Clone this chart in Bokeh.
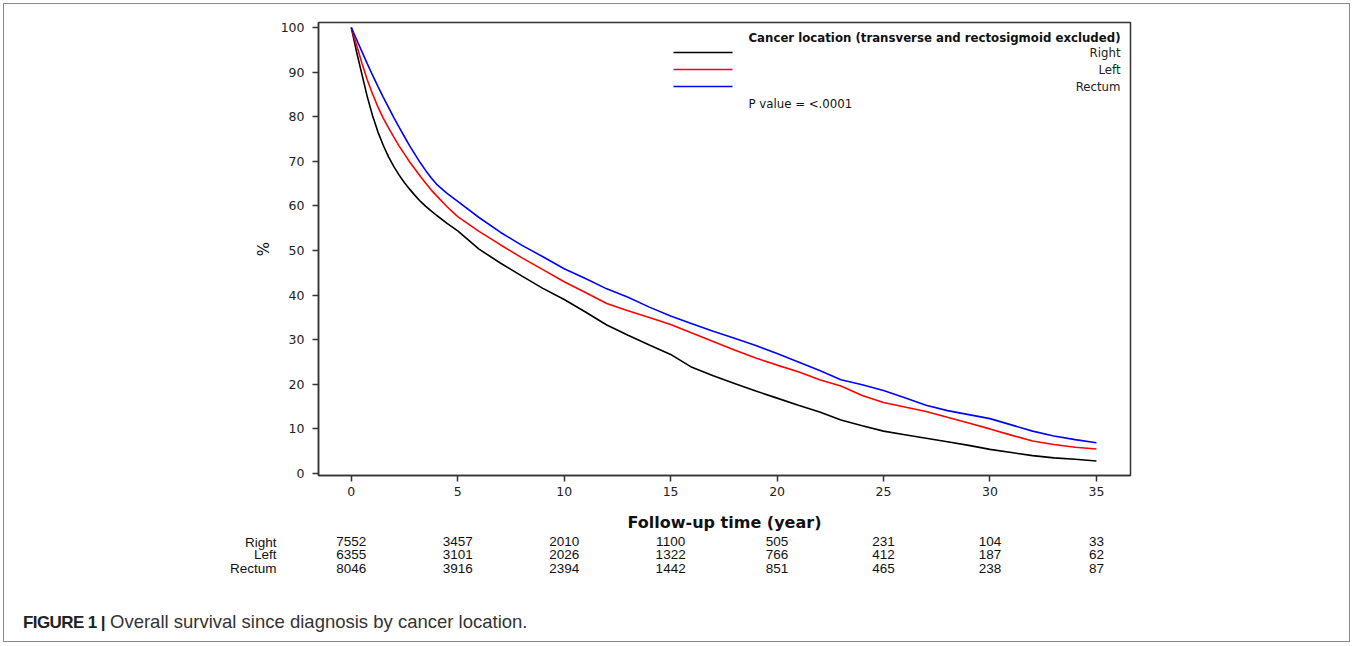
from bokeh.plotting import figure
from bokeh.models import Range1d, Label, FixedTicker, Div
from bokeh.layouts import column
from bokeh.core.properties import value
from bokeh.embed import file_html
from bokeh.resources import INLINE

# ---------------- data ----------------
years = [0, 0.25, 0.5, 0.75, 1, 1.25, 1.5, 1.75, 2, 2.25, 2.5, 2.75, 3, 3.25, 3.5, 3.75, 4,
         4.5, 5, 6, 7, 8, 9, 10, 11, 12, 13, 14, 15, 16, 17, 18, 19, 20, 21, 22, 23, 24, 25,
         26, 27, 28, 29, 30, 31, 32, 33, 34, 35]
right = [100, 94.5, 89.5, 84.5, 80.2, 76.6, 73.6, 71.0, 68.8, 66.9, 65.2, 63.7, 62.3, 61.0,
         59.9, 58.9, 57.9, 56.1, 54.4, 50.3, 47.2, 44.3, 41.5, 39.0, 36.2, 33.3, 31.0, 28.8,
         26.7, 23.8, 21.9, 20.2, 18.5, 16.9, 15.3, 13.8, 12.0, 10.7, 9.5, 8.7, 7.9, 7.1, 6.3,
         5.4, 4.7, 4.0, 3.5, 3.2, 2.8]
left = [100, 96.0, 92.0, 88.3, 85.1, 82.2, 79.7, 77.5, 75.4, 73.4, 71.6, 69.8, 68.2, 66.6,
        65.1, 63.6, 62.3, 59.8, 57.6, 54.3, 51.3, 48.4, 45.7, 43.0, 40.6, 38.1, 36.5, 35.0,
        33.4, 31.5, 29.6, 27.7, 25.9, 24.3, 22.8, 21.0, 19.6, 17.5, 15.9, 14.9, 13.9, 12.6,
        11.3, 10.0, 8.6, 7.3, 6.5, 5.9, 5.5]
rectum = [100, 97.3, 94.6, 91.9, 89.3, 86.8, 84.4, 82.1, 79.8, 77.6, 75.5, 73.4, 71.5, 69.6,
          67.9, 66.3, 64.9, 62.8, 61.0, 57.4, 54.1, 51.2, 48.6, 45.9, 43.7, 41.4, 39.5, 37.3,
          35.3, 33.6, 31.9, 30.3, 28.7, 26.9, 25.0, 23.1, 21.0, 19.9, 18.6, 17.0, 15.3, 14.1,
          13.2, 12.3, 10.9, 9.5, 8.4, 7.6, 6.9]

series_names = ["Right", "Left", "Rectum"]
series_colors = ["#000000", "#ff0000", "#0000ff"]

risk_times = [0, 5, 10, 15, 20, 25, 30, 35]
risk_right = [7552, 3457, 2010, 1100, 505, 231, 104, 33]
risk_left = [6355, 3101, 2026, 1322, 766, 412, 187, 62]
risk_rectum = [8046, 3916, 2394, 1442, 851, 465, 238, 87]

x_ticks = [0, 5, 10, 15, 20, 25, 30, 35]
y_ticks = [0, 10, 20, 30, 40, 50, 60, 70, 80, 90, 100]

legend_title = "Cancer location (transverse and rectosigmoid excluded)"
p_value_text = "P value = <.0001"
caption_bold = "FIGURE 1 |"
caption_text = "Overall survival since diagnosis by cancer location."

# ---------------- layout (page pixels) ----------------
OX, OY = 4, 4                  # container origin on the page
W = 1345
H_MAIN, H_TAB, H_CAP = 530, 50, 57
BL, BR, BT, BB = 314, 219, 18, 59
X0, X1 = -1.54, 36.6
Y0, Y1 = -0.45, 101.12
FW, FH = W - BL - BR, H_MAIN - BT - BB


def dx(page_x):
    return X0 + (page_x - OX - BL) / FW * (X1 - X0)


def dy(page_y):
    return Y1 - (page_y - OY - BT) / FH * (Y1 - Y0)


def ty(page_y):
    return page_y - OY - H_MAIN


FONT = "DejaVu Sans"
TFONT = "Liberation Sans"

p = figure(width=W, height=H_MAIN, output_backend="svg", toolbar_location=None,
           x_range=Range1d(X0, X1), y_range=Range1d(Y0, Y1),
           min_border_left=BL, min_border_right=BR, min_border_top=BT, min_border_bottom=BB)
p.grid.visible = False
p.outline_line_color = "#333333"
p.outline_line_width = 1.5

for ax in (p.xaxis, p.yaxis):
    ax.axis_line_color = "#333333"
    ax.axis_line_width = 1.5
    ax.major_tick_line_color = "#333333"
    ax.major_tick_line_width = 1.5
    ax.major_tick_in = 0
    ax.major_tick_out = 6
    ax.minor_tick_line_color = None
    ax.major_label_text_font = FONT
    ax.major_label_text_font_size = "12.5px"
    ax.major_label_text_color = "#222222"

p.xaxis.ticker = FixedTicker(ticks=x_ticks)
p.yaxis.ticker = FixedTicker(ticks=y_ticks)
p.xaxis.major_label_standoff = 5
p.yaxis.major_label_standoff = 8
p.xaxis.axis_label = "Follow-up time (year)"
p.xaxis.axis_label_text_font = FONT
p.xaxis.axis_label_text_font_style = "bold"
p.xaxis.axis_label_text_font_size = "16px"
p.xaxis.axis_label_text_color = "#111111"
p.xaxis.axis_label_standoff = 14
p.yaxis.axis_label = "%"
p.yaxis.axis_label_text_font = FONT
p.yaxis.axis_label_text_font_style = "normal"
p.yaxis.axis_label_text_font_size = "15px"
p.yaxis.axis_label_text_color = "#111111"
p.yaxis.axis_label_standoff = 5

# curves
for vals, col in zip([right, left, rectum], series_colors):
    p.line(years, vals, line_color=col, line_width=1.6)

# legend (manual, SAS style)
leg_y = [dy(52), dy(69), dy(86)]
p.segment(x0=[dx(673)] * 3, y0=leg_y, x1=[dx(732)] * 3, y1=leg_y,
          line_color=series_colors, line_width=1.6)
p.add_layout(Label(x=dx(748), y=dy(37), text=legend_title, text_font=FONT,
                   text_font_style="bold", text_font_size="11.75px", text_color="#111111",
                   text_baseline="middle"))
for name, yy in zip(series_names, leg_y):
    p.add_layout(Label(x=dx(1120), y=yy, text=name, text_font=FONT, text_font_size="11.75px",
                       text_color="#222222", text_align="right", text_baseline="middle"))
p.add_layout(Label(x=dx(748), y=dy(103), text=p_value_text, text_font=FONT,
                   text_font_size="11.75px", text_color="#111111", text_baseline="middle"))

# ---------------- number-at-risk table ----------------
row_y = [ty(541), ty(554), ty(568)]
t = figure(width=W, height=H_TAB, output_backend="svg", toolbar_location=None,
           x_range=p.x_range, y_range=Range1d(H_TAB, 0),
           x_axis_location=None, y_axis_location="left",
           min_border_left=BL, min_border_right=BR, min_border_top=0, min_border_bottom=0)
t.grid.visible = False
t.outline_line_color = None
t.yaxis.ticker = FixedTicker(ticks=row_y)
t.yaxis.major_label_overrides = {yy: name for yy, name in zip(row_y, series_names)}
t.yaxis.axis_line_color = None
t.yaxis.major_tick_line_color = None
t.yaxis.minor_tick_line_color = None
t.yaxis.major_tick_out = 0
t.yaxis.major_tick_in = 0
t.yaxis.major_label_standoff = 318 - 276
t.yaxis.major_label_text_font = TFONT
t.yaxis.major_label_text_font_size = "13.5px"
t.yaxis.major_label_text_color = "#111111"

for counts, yy in zip([risk_right, risk_left, risk_rectum], row_y):
    t.text(x=risk_times, y=[yy] * len(risk_times), text=[str(c) for c in counts],
           text_font=value(TFONT), text_font_size=value("13.5px"), text_color="#111111",
           text_align="center", text_baseline="middle")

# ---------------- caption ----------------
cap = Div(text=f'<span style="font-weight:bold;font-size:17px;letter-spacing:-0.6px;color:#222">{caption_bold}</span>'
               f'<span style="font-size:18.5px;color:#333"> {caption_text}</span>',
          width=W, height=H_CAP,
          styles={"font-family": "'Liberation Sans', Arial, sans-serif",
                  "padding-top": "23px", "padding-left": "14px",
                  "box-sizing": "border-box", "line-height": "20px"})

layout = column(p, t, cap, spacing=0, width=W, height=H_MAIN + H_TAB + H_CAP,
                sizing_mode="fixed",
                styles={"margin-left": f"{OX}px", "margin-top": f"{OY}px",
                        "outline": "1px solid #8a8a8a"})

open("out.html", "w").write(file_html(layout, INLINE))
